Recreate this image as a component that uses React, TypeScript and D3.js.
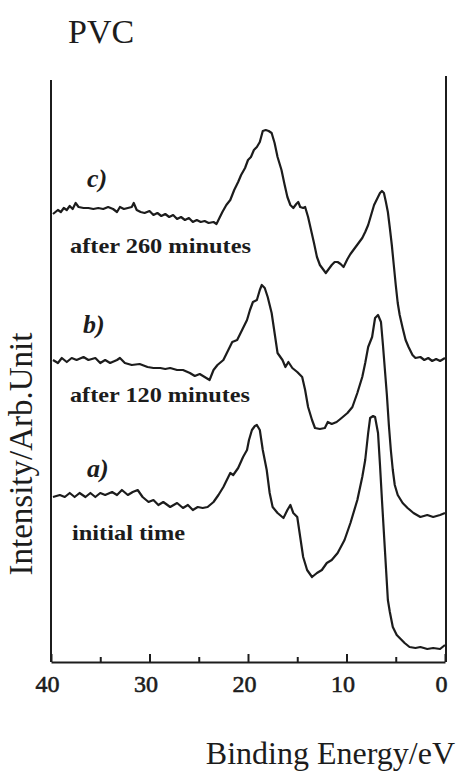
import React, {useEffect, useRef} from 'react';
import {select, line, scaleLinear, axisBottom} from 'd3';

// binding energy (eV) and intensity (arb. unit)
const energyA = [39.8, 39.1, 38.6, 38.1, 37.6, 37.1, 36.5, 36.0, 35.5, 35.0, 34.5, 33.8, 33.3, 32.8, 32.2, 31.7, 31.2, 30.7, 30.1, 29.6, 29.1, 28.6, 27.9, 27.2, 26.6, 26.1, 25.6, 25.1, 24.6, 24.1, 23.5, 23.0, 22.5, 22.3, 21.8, 21.5, 21.0, 20.5, 20.1, 19.9, 19.6, 19.3, 19.1, 18.8, 18.5, 18.1, 17.8, 17.5, 17.0, 16.4, 16.0, 15.7, 15.4, 15.0, 14.7, 14.4, 14.0, 13.5, 13.0, 12.5, 12.0, 11.5, 10.9, 10.2, 9.6, 8.9, 8.4, 8.1, 7.8, 7.6, 7.3, 7.1, 6.8, 6.6, 6.4, 6.1, 5.8, 5.6, 5.3, 4.9, 4.6, 4.1, 3.6, 3.0, 2.5, 1.8, 1.2, 0.5, 0];
const intensityA = [165, 167, 165, 169, 165, 169, 165, 169, 165, 169, 167, 170, 167, 172, 167, 170, 172, 165, 160, 162, 157, 160, 155, 159, 154, 157, 152, 155, 154, 155, 160, 167, 175, 179, 189, 187, 194, 205, 212, 222, 232, 236, 237, 232, 212, 192, 169, 155, 149, 144, 152, 157, 149, 145, 125, 105, 92, 85, 89, 92, 99, 102, 109, 122, 139, 162, 185, 202, 229, 244, 246, 245, 229, 197, 162, 112, 62, 50, 35, 27, 24, 19, 15, 14, 15, 13, 14, 13, 17];

const energyB = [39.8, 39.3, 38.9, 38.4, 37.9, 37.4, 36.7, 36.2, 35.5, 35.0, 34.5, 34.0, 33.3, 33.0, 32.5, 31.8, 31.0, 30.2, 29.6, 28.9, 28.4, 27.9, 27.2, 26.6, 25.9, 25.4, 24.9, 24.4, 23.9, 23.5, 23.1, 22.5, 22.1, 21.6, 21.1, 20.6, 20.1, 19.8, 19.5, 19.1, 18.8, 18.6, 18.3, 18.0, 17.6, 17.3, 17.0, 16.5, 16.2, 15.9, 15.5, 15.0, 14.5, 14.2, 13.9, 13.5, 13.2, 12.7, 12.2, 11.9, 11.5, 11.0, 10.5, 9.9, 9.4, 8.9, 8.4, 8.1, 7.8, 7.4, 7.1, 6.8, 6.5, 6.3, 6.1, 5.9, 5.7, 5.5, 5.3, 5.1, 4.8, 4.3, 3.8, 3.2, 2.5, 1.8, 1.2, 0.5, 0];
const intensityB = [302, 299, 304, 300, 304, 302, 305, 302, 304, 299, 302, 299, 302, 304, 299, 297, 298, 295, 294, 294, 293, 294, 292, 292, 289, 286, 288, 285, 282, 292, 297, 302, 310, 320, 322, 332, 342, 352, 360, 362, 372, 377, 374, 365, 349, 329, 309, 302, 295, 300, 294, 290, 285, 272, 255, 242, 234, 233, 234, 240, 238, 240, 244, 249, 255, 269, 285, 299, 315, 325, 344, 347, 340, 317, 292, 267, 237, 212, 192, 177, 167, 159, 154, 149, 145, 147, 145, 147, 149];

const energyC = [39.8, 39.3, 39.0, 38.7, 38.4, 38.1, 37.8, 37.5, 37.2, 36.7, 36.2, 35.7, 35.2, 34.7, 34.2, 33.7, 33.3, 33.0, 32.6, 32.2, 31.8, 31.6, 31.3, 30.9, 30.5, 30.0, 29.6, 29.2, 28.8, 28.4, 28.0, 27.6, 27.2, 26.8, 26.4, 26.0, 25.6, 25.2, 24.8, 24.4, 24.0, 23.5, 23.2, 22.9, 22.6, 22.2, 21.8, 21.4, 21.0, 20.7, 20.3, 20.0, 19.7, 19.4, 19.1, 18.8, 18.5, 18.2, 17.9, 17.6, 17.3, 17.0, 16.6, 16.3, 16.0, 15.7, 15.4, 15.1, 14.9, 14.7, 14.4, 14.2, 13.9, 13.6, 13.3, 13.0, 12.7, 12.4, 12.1, 11.8, 11.5, 11.2, 10.9, 10.6, 10.3, 9.9, 9.6, 9.3, 9.0, 8.7, 8.4, 8.1, 7.8, 7.5, 7.2, 6.9, 6.6, 6.4, 6.2, 6.0, 5.8, 5.6, 5.4, 5.2, 5.0, 4.8, 4.6, 4.3, 4.0, 3.7, 3.3, 3.0, 2.5, 2.1, 1.7, 1.3, 0.9, 0.5, 0];
const intensityC = [448, 452, 450, 454, 452, 456, 453, 459, 455, 454, 454, 453, 454, 453, 455, 453, 450, 455, 453, 454, 455, 459, 452, 450, 449, 451, 447, 449, 446, 448, 445, 447, 443, 445, 442, 444, 440, 442, 440, 441, 439, 440, 438, 444, 450, 457, 462, 472, 480, 487, 494, 502, 505, 512, 515, 520, 531, 532, 531, 529, 519, 505, 492, 478, 465, 457, 454, 458, 460, 455, 454, 455, 445, 432, 419, 405, 397, 393, 389, 393, 397, 400, 400, 398, 395, 403, 408, 412, 416, 420, 424, 430, 437, 447, 457, 463, 469, 471, 469, 460, 450, 434, 417, 397, 377, 359, 347, 334, 322, 315, 307, 304, 305, 302, 304, 301, 303, 301, 304];

const majorTicks = [40, 30, 20, 10, 0];
const minorTicks = [35, 25, 15, 5];

const seriesTags = ['a)', 'b)', 'c)'];
const seriesNotes = ['initial time', 'after 120 minutes', 'after 260 minutes'];

const ink = '#1c1c1c';
const serif = '"Liberation Serif", "DejaVu Serif", serif';

const App = (): JSX.Element => {
    const svgRef = useRef(null);

    useEffect(() => {
        const svg = select(svgRef.current);
        svg.selectAll('*').remove();

        const xScale = scaleLinear().domain([40, 0]).range([51, 445]);
        const yScale = scaleLinear().domain([0, 582]).range([662, 80]);

        // frame: left and right verticals, no top line
        svg.append('line')
            .attr('x1', xScale(40)).attr('x2', xScale(40))
            .attr('y1', yScale(582)).attr('y2', yScale(0))
            .attr('stroke', ink).attr('stroke-width', 2);
        svg.append('line')
            .attr('x1', xScale(0) + 1).attr('x2', xScale(0) + 1)
            .attr('y1', 76).attr('y2', yScale(0))
            .attr('stroke', ink).attr('stroke-width', 2);

        // bottom axis, ticks pointing inwards
        const major = svg.append('g')
            .attr('transform', `translate(0,${yScale(0)})`)
            .call(axisBottom(xScale).tickValues(majorTicks).tickSize(-8).tickSizeOuter(0).tickPadding(13));
        major.select('.domain').attr('stroke', ink).attr('stroke-width', 2);
        major.selectAll('.tick line').attr('stroke', ink).attr('stroke-width', 2);
        major.selectAll('.tick text')
            .attr('font-family', serif)
            .attr('font-size', 24)
            .attr('fill', ink)
            .attr('stroke', ink)
            .attr('stroke-width', 0.6)
            .attr('dx', -4);

        const minor = svg.append('g')
            .attr('transform', `translate(0,${yScale(0)})`)
            .call(axisBottom(xScale).tickValues(minorTicks).tickSize(-5).tickSizeOuter(0).tickFormat(() => ''));
        minor.select('.domain').remove();
        minor.selectAll('.tick line').attr('stroke', ink).attr('stroke-width', 2);

        // spectra
        const spectra = [
            energyA.map((e, i) => [e, intensityA[i]]),
            energyB.map((e, i) => [e, intensityB[i]]),
            energyC.map((e, i) => [e, intensityC[i]]),
        ];
        const myLine = line()
            .x((d) => xScale(d[0]))
            .y((d) => yScale(d[1]));

        svg.selectAll('.spectrum')
            .data(spectra)
            .join('path')
            .attr('class', 'spectrum')
            .attr('d', (d) => myLine(d))
            .attr('fill', 'none')
            .attr('stroke', ink)
            .attr('stroke-width', 2.2)
            .attr('stroke-linejoin', 'round');

        // series labels
        const tagPos = [[87, 477], [83, 333], [87, 187]];
        const notePos = [[72, 540, 113], [70, 402, 180], [70, 253, 181]];
        seriesTags.forEach((t, i) => {
            svg.append('text')
                .attr('x', tagPos[i][0]).attr('y', tagPos[i][1])
                .attr('font-family', serif).attr('font-size', 26)
                .attr('font-weight', 'bold').attr('font-style', 'italic')
                .attr('fill', ink)
                .text(t);
        });
        seriesNotes.forEach((t, i) => {
            svg.append('text')
                .attr('x', notePos[i][0]).attr('y', notePos[i][1])
                .attr('font-family', serif).attr('font-size', 22)
                .attr('font-weight', 'bold')
                .attr('textLength', notePos[i][2])
                .attr('lengthAdjust', 'spacingAndGlyphs')
                .attr('fill', ink)
                .text(t);
        });

        // titles
        svg.append('text')
            .attr('x', 68).attr('y', 43)
            .attr('font-family', serif).attr('font-size', 34)
            .attr('fill', ink)
            .text('PVC');
        svg.append('text')
            .attr('x', 455).attr('y', 764)
            .attr('text-anchor', 'end')
            .attr('font-family', serif).attr('font-size', 32)
            .attr('fill', ink)
            .text('Binding Energy/eV');
        svg.append('text')
            .attr('transform', 'translate(32,454) rotate(-90)')
            .attr('text-anchor', 'middle')
            .attr('font-family', serif).attr('font-size', 33)
            .attr('fill', ink)
            .text('Intensity/Arb.Unit');
    }, []);

    return (
        <svg
            ref={svgRef}
            xmlns="http://www.w3.org/2000/svg"
            width="458"
            height="772"
            viewBox="0 0 458 772"
            style={{position: 'absolute', left: 0, top: 0, background: '#fff'}}
        />
    );
};

export default App;
